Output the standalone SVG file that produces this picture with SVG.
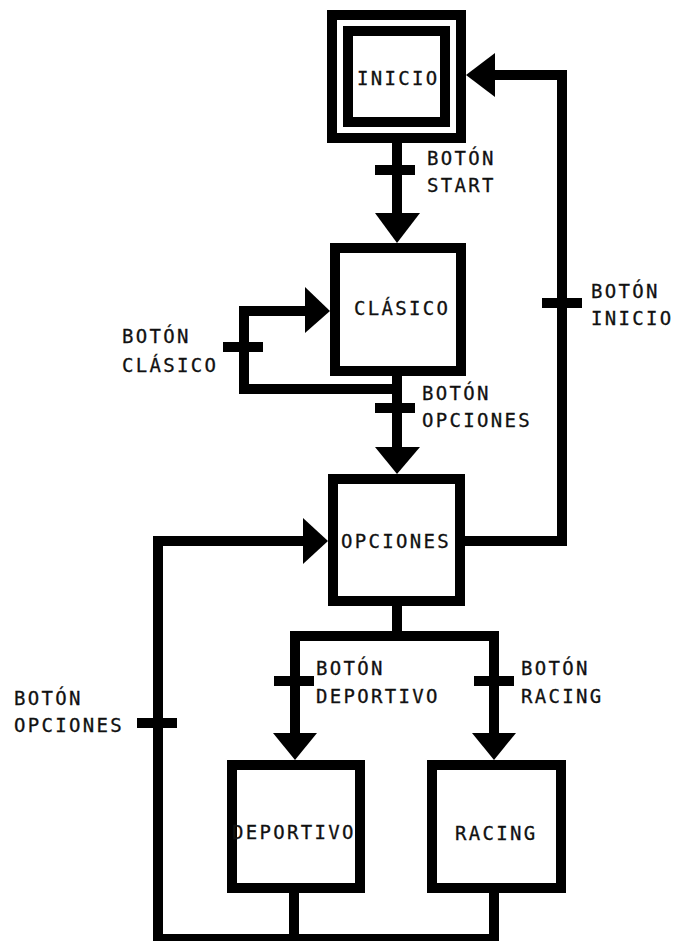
<svg xmlns="http://www.w3.org/2000/svg" width="678" height="941" viewBox="0 0 678 941">
<style>
.box{fill:#fff;stroke:#000;stroke-width:10}
.ln{fill:none;stroke:#000;stroke-width:10;stroke-linecap:square;stroke-linejoin:miter}
.ah{fill:#000;stroke:none}
.tk{fill:#000;stroke:none}
.t{font-family:"DejaVu Sans Mono","Liberation Mono",monospace;font-size:19px;letter-spacing:2.3px;fill:#111;stroke:#111;stroke-width:0.3px}
</style>
<rect width="678" height="941" fill="#fff"/>
<g id="connectors">
<line class="ln" x1="397" y1="143" x2="397" y2="215"/>
<polygon class="ah" points="375,213 420,213 397,243"/>
<rect class="tk" x="375" y="165" width="40" height="10"/>

<line class="ln" x1="397" y1="376" x2="397" y2="449"/>
<polygon class="ah" points="375,447 420,447 397,474"/>
<rect class="tk" x="375" y="403" width="40" height="10"/>

<polyline class="ln" points="397,389 244,389 244,311 307,311"/>
<polygon class="ah" points="305,287 305,333 330,311"/>
<rect class="tk" x="223" y="342" width="40" height="10"/>

<polyline class="ln" points="465,541 562,541 562,75 493,75"/>
<polygon class="ah" points="495,53 495,97 466,75"/>
<rect class="tk" x="542" y="298" width="40" height="10"/>

<line class="ln" x1="397" y1="606" x2="397" y2="636"/>
<polyline class="ln" points="295,735 295,636 494,636 494,735"/>
<polygon class="ah" points="273,733 317,733 295,760"/>
<polygon class="ah" points="472,733 516,733 494,760"/>
<rect class="tk" x="274" y="676" width="40" height="10"/>
<rect class="tk" x="474" y="676" width="40" height="10"/>

<line class="ln" x1="294" y1="893" x2="294" y2="939"/>
<polyline class="ln" points="494,893 494,939 158,939 158,541 305,541"/>
<polygon class="ah" points="303,518 303,564 328,541"/>
<rect class="tk" x="137" y="718" width="40" height="10"/>
</g>
<g id="inicio">
<rect class="box" x="332" y="15" width="129" height="123"/>
<rect class="box" x="348" y="31" width="97" height="91"/>
<text class="t" x="357" y="85">INICIO</text>
</g>
<g id="clasico">
<rect class="box" x="335" y="248" width="126" height="123"/>
<text class="t" x="354" y="315">CLÁSICO</text>
</g>
<g id="opciones">
<rect class="box" x="333" y="479" width="127" height="122"/>
<text class="t" x="341" y="548">OPCIONES</text>
</g>
<g id="deportivo">
<rect class="box" x="232" y="765" width="128" height="123"/>
<text class="t" x="232" y="839">DEPORTIVO</text>
</g>
<g id="racing">
<rect class="box" x="432" y="765" width="129" height="123"/>
<text class="t" x="455" y="840">RACING</text>
</g>
<g id="labels">
<text class="t" x="427" y="165">BOTÓN</text>
<text class="t" x="427" y="192">START</text>
<text class="t" x="591" y="298">BOTÓN</text>
<text class="t" x="591" y="325">INICIO</text>
<text class="t" x="422" y="400">BOTÓN</text>
<text class="t" x="422" y="427">OPCIONES</text>
<text class="t" x="122" y="343">BOTÓN</text>
<text class="t" x="122" y="372">CLÁSICO</text>
<text class="t" x="14" y="705">BOTÓN</text>
<text class="t" x="14" y="732">OPCIONES</text>
<text class="t" x="316" y="675">BOTÓN</text>
<text class="t" x="316" y="703">DEPORTIVO</text>
<text class="t" x="521" y="675">BOTÓN</text>
<text class="t" x="521" y="703">RACING</text>
</g>
</svg>
